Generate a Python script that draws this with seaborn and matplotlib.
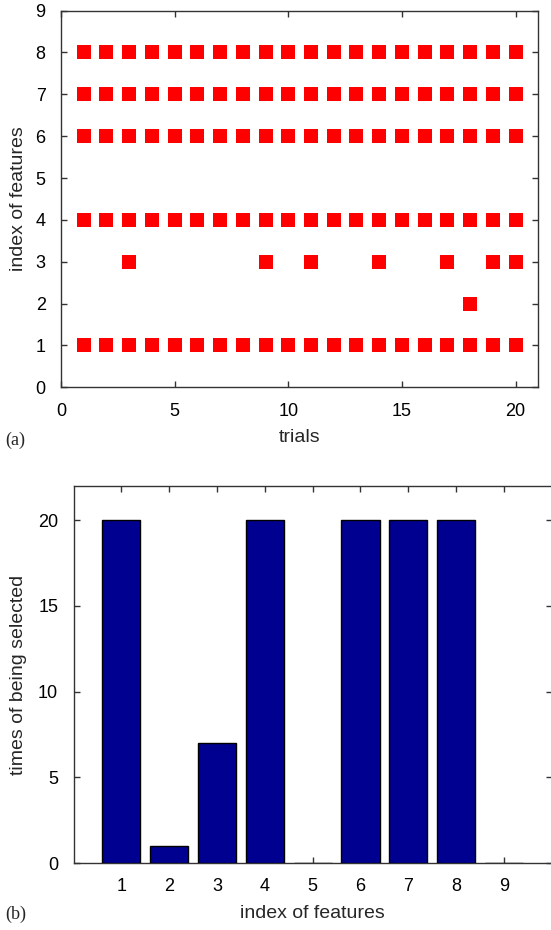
import numpy as np
import pandas as pd
import matplotlib
matplotlib.use("Agg")
import matplotlib.pyplot as plt
import seaborn as sns

# Feature-selection results over 20 trials
trials = list(range(1, 21))
feature_index = [1, 2, 3, 4, 5, 6, 7, 8, 9]
trials_f1 = trials
trials_f2 = [18]
trials_f3 = [3, 9, 11, 14, 17, 19, 20]
trials_f4 = trials
trials_f5 = []
trials_f6 = trials
trials_f7 = trials
trials_f8 = trials
trials_f9 = []

selected = [trials_f1, trials_f2, trials_f3, trials_f4, trials_f5,
            trials_f6, trials_f7, trials_f8, trials_f9]

# long table: one row per (trial, selected feature)
rows = [(t, f) for f, ts in zip(feature_index, selected) for t in ts]
sel_df = pd.DataFrame(rows, columns=["trial", "feature"])

# how many times each feature was picked
count_df = pd.DataFrame({"feature": feature_index,
                         "times": [len(ts) for ts in selected]})

sns.set_style("ticks")
plt.rcParams["font.family"] = ["Liberation Sans", "DejaVu Sans"]
plt.rcParams["axes.edgecolor"] = "#333333"
plt.rcParams["xtick.color"] = "#333333"
plt.rcParams["ytick.color"] = "#333333"
plt.rcParams["xtick.labelcolor"] = "black"
plt.rcParams["ytick.labelcolor"] = "black"

fig = plt.figure(figsize=(5.51, 9.30), dpi=100)
tick_fs = 13
label_fs = 14

# (a) selected features per trial
ax1 = fig.add_axes([0.1107, 0.5836, 0.8662, 0.4050])
sns.scatterplot(data=sel_df, x="trial", y="feature", marker="s", s=92,
                color="#ff0000", linewidth=0, ax=ax1, zorder=3)
ax1.set_xlim(0, 21)
ax1.set_ylim(0, 9)
ax1.set_xticks([0, 5, 10, 15, 20])
ax1.set_yticks(range(0, 10))
ax1.set_xlabel("trials", fontsize=label_fs, labelpad=7)
ax1.set_ylabel("index of features", fontsize=label_fs, labelpad=6)

# (b) selection counts
ax2 = fig.add_axes([0.1334, 0.0720, 0.8680, 0.4054])
sns.barplot(data=count_df, x="feature", y="times", native_scale=True,
            width=0.8, color="#000090", saturation=1, edgecolor="black",
            linewidth=1.0, ax=ax2, zorder=3)
ax2.set_xlim(0, 10)
ax2.set_ylim(0, 22)
ax2.set_xticks(feature_index)
ax2.set_yticks([0, 5, 10, 15, 20])
ax2.set_xlabel("index of features", fontsize=label_fs, labelpad=7)
ax2.set_ylabel("times of being selected", fontsize=label_fs, labelpad=8)

for ax in (ax1, ax2):
    for s in ax.spines.values():
        s.set_visible(True)
        s.set_linewidth(1.0)
    ax.tick_params(direction="in", length=4, width=1.0, top=True, right=True,
                   labelsize=tick_fs, pad=11)
    ax.set_axisbelow(False)

fig.text(0.01, 0.522, "(a)", fontsize=13, family=["Liberation Serif", "DejaVu Serif"])
fig.text(0.01, 0.012, "(b)", fontsize=13, family=["Liberation Serif", "DejaVu Serif"])

fig.savefig("out.png", dpi=100)
